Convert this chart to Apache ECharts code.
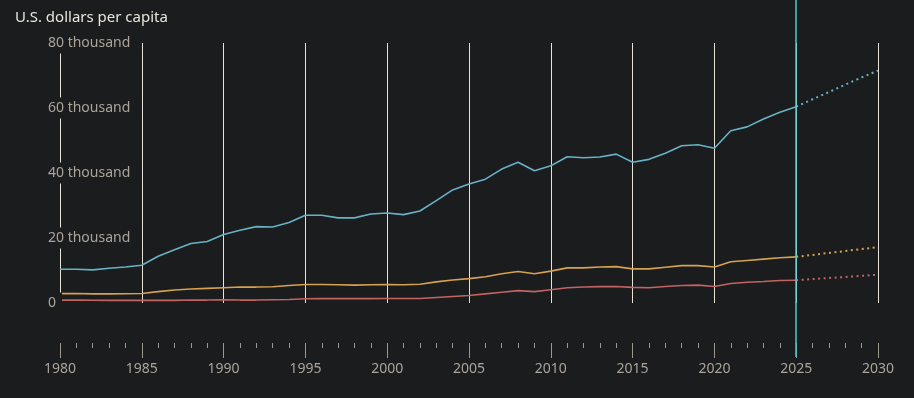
<!DOCTYPE html>
<html>
<head>
<meta charset="utf-8">
<script src="https://cdn.jsdelivr.net/npm/echarts@6/dist/echarts.min.js"></script>
<style>
html,body{margin:0;padding:0;background:#1b1c1e;}
#c{width:914px;height:398px;}
</style>
</head>
<body>
<div id="c"></div>
<script>
const title = "U.S. dollars per capita";
const years = [1980,1981,1982,1983,1984,1985,1986,1987,1988,1989,1990,1991,1992,1993,1994,1995,1996,1997,1998,1999,2000,2001,2002,2003,2004,2005,2006,2007,2008,2009,2010,2011,2012,2013,2014,2015,2016,2017,2018,2019,2020,2021,2022,2023,2024,2025];
const blueVals = [10400,10400,10200,10700,11100,11600,14400,16400,18300,18900,21100,22400,23500,23400,24800,27000,27000,26200,26200,27400,27700,27200,28300,31500,34800,36600,38100,41200,43300,40700,42200,45000,44700,44900,45800,43300,44200,46100,48400,48700,47600,53000,54200,56600,58700,60400];
const orangeVals = [2900,2900,2800,2800,2850,2900,3500,4000,4300,4500,4700,4900,4900,5000,5400,5700,5700,5600,5500,5600,5700,5600,5750,6500,7100,7500,8100,9000,9700,9000,9800,10800,10800,11100,11200,10500,10500,11000,11500,11500,11100,12700,13100,13500,13900,14200];
const redVals = [900,900,850,800,800,800,800,800,900,900,1000,900,900,1000,1100,1300,1350,1400,1350,1350,1400,1400,1400,1700,2000,2300,2800,3300,3800,3500,4100,4700,4900,5050,5100,4800,4700,5100,5400,5500,5100,6000,6400,6600,6900,7000];
const projYears = [2025,2026,2027,2028,2029,2030];
const blueProj = [60400,62700,64900,67200,69400,71500];
const orangeProj = [14200,14800,15400,16000,16600,17200];
const redProj = [7000,7350,7700,8000,8350,8700];
const yTicks = [0,20000,40000,60000,80000];
const xTickYears = [1980,1985,1990,1995,2000,2005,2010,2015,2020,2025,2030];
const forecastStart = 2025;

const FONT = '"Noto Sans", "Open Sans", sans-serif';
const BG = '#1b1c1e';
const LBL = '#aaa49b';
const GRIDC = '#e6e2d9';
const C_BLUE = '#68b2c7';
const C_ORANGE = '#d6a24f';
const C_RED = '#c36362';
const C_CYAN = '#4ec8cf';

const pairs = (xs, ys) => xs.map((x, i) => [x, ys[i]]);

const chart = echarts.init(document.getElementById('c'), null, {renderer: 'canvas'});

function solid(name, vals, color) {
  return {
    type: 'line', name, xAxisIndex: 0, yAxisIndex: 0,
    data: pairs(years, vals), showSymbol: false, symbol: 'none',
    lineStyle: {color, width: 1.6}, z: 2, silent: true, animation: false
  };
}
function dotted(name, vals, color) {
  return {
    type: 'line', name: name + ' forecast', xAxisIndex: 0, yAxisIndex: 0,
    data: pairs(projYears, vals), showSymbol: false, symbol: 'none',
    lineStyle: {color, width: 2, type: [2, 3.5]}, z: 2, silent: true, animation: false
  };
}

chart.setOption({
  backgroundColor: BG,
  animation: false,
  textStyle: {fontFamily: FONT},
  title: {
    text: title, left: 15, top: 10, padding: 0,
    textStyle: {color: '#e8e4dc', fontSize: 15, fontWeight: 'normal', fontFamily: FONT}
  },
  grid: [
    {left: 60, right: 36, top: 43, height: 260},
    {left: 60, right: 36, bottom: 55, height: 1},
    {left: 60, right: 36, top: 0, bottom: 41}
  ],
  xAxis: [
    {
      gridIndex: 0, type: 'value', min: 1980, max: 2030, interval: 5,
      axisLine: {show: false}, axisTick: {show: false}, axisLabel: {show: false},
      splitLine: {show: true, lineStyle: {color: GRIDC, width: 1}}
    },
    {
      gridIndex: 1, type: 'value', min: 1980, max: 2030, interval: 5,
      axisLine: {show: false},
      axisTick: {show: true, length: 15, lineStyle: {color: '#9d978e', width: 1}},
      minorTick: {show: true, splitNumber: 5, length: 5, lineStyle: {color: '#9d978e', width: 1}},
      splitLine: {show: false},
      axisLabel: {
        show: true, margin: 19, color: LBL, fontSize: 14, fontFamily: FONT,
        formatter: v => xTickYears.includes(v) ? String(v) : ''
      }
    },
    {gridIndex: 2, type: 'value', min: 1980, max: 2030, show: false}
  ],
  yAxis: [
    {
      gridIndex: 0, type: 'value', min: 0, max: 80000, interval: 20000, z: 5,
      axisLine: {show: false}, axisTick: {show: false}, splitLine: {show: false},
      axisLabel: {
        show: true, margin: 15, align: 'left', color: LBL, fontSize: 14, fontFamily: FONT,
        backgroundColor: BG, padding: [4, 6, 2, 3], lineHeight: 15,
        formatter: v => yTicks.includes(v) ? (v === 0 ? '0' : (v / 1000) + ' thousand') : ''
      }
    },
    {gridIndex: 1, type: 'value', min: 0, max: 1, show: false},
    {gridIndex: 2, type: 'value', min: 0, max: 1, show: false}
  ],
  series: [
    solid('Blue', blueVals, C_BLUE),
    solid('Orange', orangeVals, C_ORANGE),
    solid('Red', redVals, C_RED),
    dotted('Blue', blueProj, C_BLUE),
    dotted('Orange', orangeProj, C_ORANGE),
    dotted('Red', redProj, C_RED),
    {
      type: 'line', xAxisIndex: 2, yAxisIndex: 2, data: [], symbol: 'none', silent: true, z: 4,
      markLine: {
        silent: true, symbol: 'none', label: {show: false}, animation: false,
        lineStyle: {color: C_CYAN, width: 1.5, type: 'solid'},
        data: [{xAxis: forecastStart}]
      }
    }
  ]
});
</script>
</body>
</html>
